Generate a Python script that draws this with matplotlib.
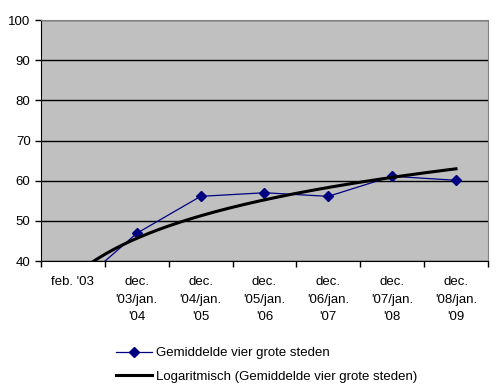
import matplotlib
matplotlib.use("Agg")
import matplotlib.pyplot as plt
import numpy as np

plt.rcParams['font.family'] = ['Liberation Sans', 'DejaVu Sans']

# categories and measured averages for the four large cities
categories = ["feb. '03", "dec.\n'03/jan.\n'04", "dec.\n'04/jan.\n'05", "dec.\n'05/jan.\n'06",
              "dec.\n'06/jan.\n'07", "dec.\n'07/jan.\n'08", "dec.\n'08/jan.\n'09"]
values = [33, 46.9, 56.1, 57.0, 56.1, 61.1, 60.1]
series_name = "Gemiddelde vier grote steden"
trend_name = "Logaritmisch (Gemiddelde vier grote steden)"

x = np.arange(1, len(values) + 1)

# logarithmic trendline, y = a*ln(x) + b
a, b = np.polyfit(np.log(x), values, 1)
xt = np.linspace(1, len(values), 200)
yt = a * np.log(xt) + b

fs = 9.5

fig = plt.figure(figsize=(5.03, 3.85), dpi=100)
ax = fig.add_axes([0.0815, 0.322, 0.8885, 0.626])
ax.set_facecolor('#c0c0c0')

ax.plot(x, values, color='#000080', lw=0.9, marker='D', ms=5, label=series_name, zorder=3)
ax.plot(xt, yt, color='black', lw=2.2, label=trend_name, zorder=4)

ax.set_ylim(40, 100)
ax.set_yticks(range(40, 101, 10))
ax.yaxis.grid(True, color='black', lw=1)
ax.set_axisbelow(True)

ax.set_xlim(0.5, len(values) + 0.5)
ax.set_xticks(np.arange(0.5, len(values) + 1, 1))
ax.set_xticklabels([])
ax.set_xticks(x, minor=True)
ax.set_xticklabels(categories, minor=True, linespacing=1.6, va='top')
ax.tick_params(axis='x', which='minor', length=0, pad=11, labelsize=fs)
ax.tick_params(axis='both', which='major', direction='out', length=4, width=1, color='black', labelsize=fs)

for side in ['top', 'right']:
    ax.spines[side].set_color('#808080')
for side in ['left', 'bottom']:
    ax.spines[side].set_color('black')

fig.legend(loc='upper left', bbox_to_anchor=(0.22, 0.112), frameon=False, fontsize=fs,
           handlelength=2.75, handletextpad=0.25, labelspacing=0.85, borderaxespad=0)

fig.savefig('out.png', dpi=100)
